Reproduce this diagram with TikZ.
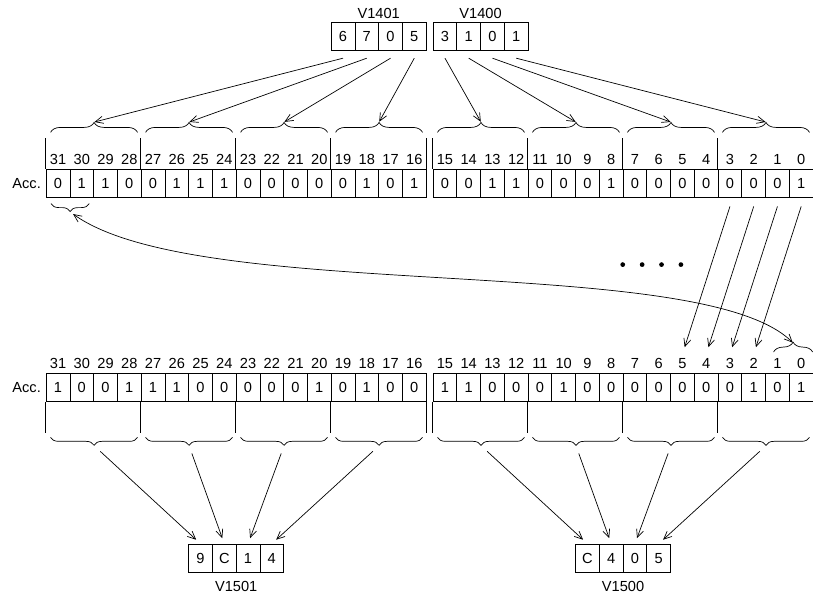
\documentclass[tikz,border=0pt]{standalone}
\usepackage{fontspec}
\setmainfont{Liberation Sans}
\usetikzlibrary{matrix,positioning,decorations.pathreplacing,arrows.meta}

\begin{document}
\begin{tikzpicture}[
    font=\fontsize{10.5}{12}\selectfont,
    line width=0.5pt,
    >={Straight Barb[length=2mm, width=1.8mm]},
    % Node styles
    acc/.style={matrix of nodes, inner sep=0pt, column sep=-\pgflinewidth, row sep=0pt,
        nodes={anchor=center, inner sep=0pt, minimum width=0.6cm},
        row 1/.style={nodes={minimum height=0.46cm}},
        row 2/.style={nodes={draw, minimum height=0.72cm}}},
    reg/.style={matrix of nodes, inner sep=0pt, column sep=-\pgflinewidth,
        nodes={draw, anchor=center, inner sep=0pt, minimum width=0.6cm, minimum height=0.72cm}},
    regname/.style={inner sep=0pt},
    bracetop/.style={decorate, decoration={brace, amplitude=0.25cm}},
    bracebot/.style={decorate, decoration={brace, amplitude=0.2cm}},
    bracetip/.style={inner sep=0pt, minimum size=0pt},
    arrow/.style={->},
]
    \useasboundingbox (0,0) rectangle (20.54,15.03);

    % Accumulator before the rotate
    \matrix[acc, anchor=south west] (inHi) at (1.149,10.016) {
        31 & 30 & 29 & 28 & 27 & 26 & 25 & 24 & 23 & 22 & 21 & 20 & 19 & 18 & 17 & 16 \\
        0 & 1 & 1 & 0 & 0 & 1 & 1 & 1 & 0 & 0 & 0 & 0 & 0 & 1 & 0 & 1 \\
    };
    \matrix[acc, right=0.14cm of inHi] (inLo) {
        15 & 14 & 13 & 12 & 11 & 10 & 9 & 8 & 7 & 6 & 5 & 4 & 3 & 2 & 1 & 0 \\
        0 & 0 & 1 & 1 & 0 & 0 & 0 & 1 & 0 & 0 & 0 & 0 & 0 & 0 & 0 & 1 \\
    };
    \node[left=0pt of inHi-2-1] (accIn) {Acc.};

    % Accumulator after the rotate
    \matrix[acc, below=3.93cm of inHi] (outHi) {
        31 & 30 & 29 & 28 & 27 & 26 & 25 & 24 & 23 & 22 & 21 & 20 & 19 & 18 & 17 & 16 \\
        1 & 0 & 0 & 1 & 1 & 1 & 0 & 0 & 0 & 0 & 0 & 1 & 0 & 1 & 0 & 0 \\
    };
    \matrix[acc, right=0.14cm of outHi] (outLo) {
        15 & 14 & 13 & 12 & 11 & 10 & 9 & 8 & 7 & 6 & 5 & 4 & 3 & 2 & 1 & 0 \\
        1 & 1 & 0 & 0 & 0 & 1 & 0 & 0 & 0 & 0 & 0 & 0 & 0 & 1 & 0 & 1 \\
    };
    \node[left=0pt of outHi-2-1] (accOut) {Acc.};

    % V-memory registers
    \matrix[reg, anchor=south east] (v1401) at ([yshift=2.5cm]inHi.north east) {6 & 7 & 0 & 5 \\};
    \matrix[reg, anchor=south west] (v1400) at ([yshift=2.5cm]inLo.north west) {3 & 1 & 0 & 1 \\};
    \matrix[reg, below=3.57cm of outHi] (v1501) {9 & C & 1 & 4 \\};
    \matrix[reg, below=3.57cm of outLo] (v1500) {C & 4 & 0 & 5 \\};
    \node[regname, above=0.07cm of v1401] (n1401) {V1401};
    \node[regname, above=0.07cm of v1400] (n1400) {V1400};
    \node[regname, below=0.2cm of v1501] (n1501) {V1501};
    \node[regname, below=0.2cm of v1500] (n1500) {V1500};

    % Group separators
    \foreach \m in {inHi, inLo} {
        \foreach \c in {1,5,9,13}
            \draw (\m-2-\c.north west) -- ++(0,0.78);
        \draw (\m-2-16.north east) -- ++(0,0.78);
    }
    \foreach \m in {outHi, outLo} {
        \foreach \c in {1,5,9,13}
            \draw (\m-2-\c.south west) -- ++(0,-0.78);
        \draw (\m-2-16.south east) -- ++(0,-0.78);
    }

    % Load: registers to nibbles
    \foreach \m/\r in {inHi/v1401, inLo/v1400} {
        \foreach \a/\b/\k in {1/4/1, 5/8/2, 9/12/3, 13/16/4} {
            \draw[bracetop] ([xshift=0.12cm, yshift=0.455cm]\m-1-\a.north west)
                -- ([xshift=-0.1cm, yshift=0.455cm]\m-1-\b.north east)
                node[midway, bracetip, above=0.25cm] (\m-tip\k) {};
            \draw[arrow] ([yshift=-0.18cm]\r-1-\k.south) -- (\m-tip\k);
        }
    }

    % Output: nibbles to registers
    \foreach \m/\r in {outHi/v1501, outLo/v1500} {
        \foreach \a/\b/\k in {1/4/1, 5/8/2, 9/12/3, 13/16/4} {
            \draw[bracebot] ([xshift=-0.1cm, yshift=-0.9cm]\m-2-\b.south east)
                -- ([xshift=0.12cm, yshift=-0.9cm]\m-2-\a.south west)
                node[midway, bracetip, below=0.2cm] (\m-tip\k) {};
            \draw[arrow, shorten <=0.2cm, shorten >=0.15cm] (\m-tip\k) -- (\r-1-\k.north);
        }
    }

    % Bits shifted left by two
    \foreach \c/\d in {13/11, 14/12, 15/13, 16/14}
        \draw[arrow, shorten >=0.18cm] ([yshift=-0.21cm]inLo-2-\c.south) -- (outLo-1-\d.north);
    \coordinate[below=1.68cm of inLo-2-9.south west] (dots);
    \foreach \k in {0,...,3}
        \fill ([xshift=\k*0.49cm]dots) circle (0.06cm);

    % Bits 31 and 30 wrap round to bits 1 and 0
    \draw[bracebot] ([xshift=-0.12cm, yshift=-0.14cm]inHi-2-2.south east)
        -- ([xshift=0.13cm, yshift=-0.14cm]inHi-2-1.south west)
        node[midway, bracetip, below=0.2cm] (wrapFrom) {};
    \draw[bracetop] ([xshift=0.21cm, yshift=0.05cm]outLo-1-15.north west)
        -- ([xshift=-0.02cm, yshift=0.05cm]outLo-1-16.north east)
        node[midway, bracetip, above=0.22cm] (wrapTo) {};
    \draw[<->, shorten <=0.08cm] (wrapFrom) .. controls +(3.28,-2.35) and +(-2.32,2.32) .. (wrapTo);

\end{tikzpicture}
\end{document}
